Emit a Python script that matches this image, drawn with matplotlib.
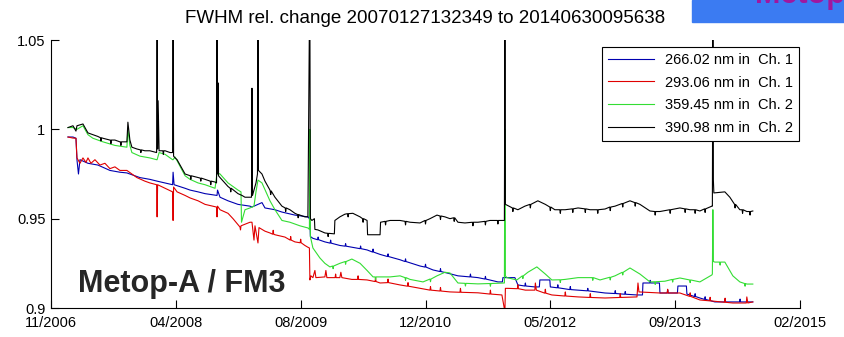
import numpy as np
import matplotlib
matplotlib.use("Agg")
from matplotlib import pyplot as plt
from matplotlib.patches import Rectangle

plt.rcParams['font.family'] = ['Liberation Sans', 'DejaVu Sans']

# x = days after 19.11.2006 (first tick), y = relative FWHM
tick_days = [0, 500, 1000, 1500, 2000, 2500, 3000]
tick_labels = ['11/2006', '04/2008', '08/2009', '12/2010', '05/2012', '09/2013', '02/2015']
ytick_vals = [0.9, 0.95, 1.0, 1.05]
ytick_labels = ['0.9', '0.95', '1', '1.05']

names = ['266.02 nm in  Ch. 1', '293.06 nm in  Ch. 1', '359.45 nm in  Ch. 2', '390.98 nm in  Ch. 2']

ch1_266 = [(68, 0.9957), (88, 0.9957), (100, 0.995), (104, 0.983), (110, 0.975), (116, 0.983),
           (148, 0.981), (188, 0.980), (236, 0.977), (276, 0.976), (304, 0.9756), (356, 0.973),
           (396, 0.972), (425, 0.971), (457, 0.970), (487, 0.969), (489, 0.976), (493, 0.969),
           (537, 0.967), (557, 0.966), (589, 0.965), (617, 0.964), (665, 0.963), (667, 0.966),
           (677, 0.962), (709, 0.960), (749, 0.958), (797, 0.957), (805, 0.9565), (829, 0.958),
           (845, 0.959), (857, 0.956), (897, 0.955), (925, 0.9537), (977, 0.952), (1029, 0.951),
           (1035, 0.950), (1037, 0.948), (1039, 0.940), (1049, 0.939), (1097, 0.937), (1157, 0.935),
           (1205, 0.934), (1266, 0.9325), (1318, 0.930), (1398, 0.927), (1478, 0.9235), (1530, 0.9213),
           (1586, 0.9196), (1630, 0.918), (1710, 0.917), (1790, 0.9146), (1808, 0.9146), (1810, 0.917),
           (1858, 0.917), (1870, 0.9129), (1938, 0.9118), (1956, 0.9118), (1958, 0.9157), (1998, 0.9157),
           (2000, 0.9118), (2059, 0.9107), (2111, 0.910), (2219, 0.9084), (2347, 0.9073), (2369, 0.9073),
           (2371, 0.914), (2437, 0.914), (2439, 0.9084), (2509, 0.9084), (2511, 0.9123), (2545, 0.9123),
           (2547, 0.9078), (2599, 0.9056), (2659, 0.9034), (2731, 0.9034), (2811, 0.9034)]
# short spikes on the curves: (day, level, tip)
ch1_266_ticks = [(1070, 0.9382, 0.9397), (1120, 0.9363, 0.938), (1180, 0.9346, 0.936),
                 (1240, 0.9332, 0.9347), (1290, 0.9313, 0.933), (1350, 0.9288, 0.9303),
                 (1420, 0.926, 0.9275), (1500, 0.9229, 0.9245), (1560, 0.9204, 0.922),
                 (1680, 0.9174, 0.919), (1740, 0.9162, 0.9177), (1900, 0.9123, 0.914),
                 (2030, 0.9113, 0.913), (2080, 0.9103, 0.912), (2150, 0.9096, 0.911),
                 (2260, 0.9081, 0.9097), (2300, 0.9077, 0.9092), (2400, 0.914, 0.9155),
                 (2470, 0.9084, 0.910), (2580, 0.9064, 0.908), (2620, 0.9048, 0.9063),
                 (2700, 0.9034, 0.905), (2760, 0.9034, 0.905)]

ch1_293 = [(68, 0.9957), (88, 0.9951), (100, 0.995), (104, 0.984), (116, 0.981), (128, 0.984),
           (140, 0.9815), (148, 0.984), (160, 0.981), (176, 0.983), (196, 0.980), (216, 0.981),
           (236, 0.978), (256, 0.979), (276, 0.977), (304, 0.977), (324, 0.975), (344, 0.973),
           (376, 0.971), (396, 0.970), (423, 0.969), (425, 0.951), (427, 0.969), (457, 0.967),
           (487, 0.965), (489, 0.949), (491, 0.9677), (505, 0.965), (537, 0.963), (557, 0.9616),
           (589, 0.960), (617, 0.958), (663, 0.9565), (665, 0.951), (667, 0.957), (677, 0.955),
           (709, 0.953), (729, 0.950), (757, 0.9453), (759, 0.9437), (761, 0.946), (797, 0.948),
           (805, 0.948), (813, 0.938), (817, 0.946), (829, 0.9364), (833, 0.945), (857, 0.943),
           (877, 0.942), (897, 0.941), (937, 0.9397), (977, 0.937), (1017, 0.935), (1029, 0.934),
           (1035, 0.9336), (1037, 0.9157), (1041, 0.918), (1049, 0.917), (1057, 0.921), (1061, 0.917),
           (1097, 0.9174), (1101, 0.921), (1105, 0.917), (1157, 0.917), (1161, 0.920), (1165, 0.917),
           (1205, 0.916), (1266, 0.9157), (1318, 0.914), (1398, 0.9129), (1478, 0.911), (1598, 0.909),
           (1710, 0.9085), (1806, 0.9073), (1818, 0.898), (1820, 0.911), (1830, 0.911), (1900, 0.910),
           (1938, 0.910), (1940, 0.914), (1944, 0.910), (2006, 0.9073), (2111, 0.9062), (2219, 0.9056),
           (2347, 0.9062), (2351, 0.914), (2355, 0.909), (2439, 0.9084), (2519, 0.9084), (2599, 0.9045),
           (2731, 0.9028), (2785, 0.9028), (2787, 0.9062), (2791, 0.9028), (2811, 0.9034)]
ch1_293_ticks = [(890, 0.9413, 0.9435), (960, 0.938, 0.940), (1000, 0.9365, 0.9385),
                 (1140, 0.917, 0.919), (1230, 0.916, 0.918), (1300, 0.9148, 0.917),
                 (1350, 0.9142, 0.9162), (1430, 0.9122, 0.9142), (1520, 0.910, 0.912),
                 (1560, 0.9095, 0.9115), (1640, 0.9088, 0.911), (1760, 0.9078, 0.910),
                 (1870, 0.9108, 0.913), (1980, 0.9083, 0.9105), (2060, 0.9067, 0.909),
                 (2160, 0.9059, 0.908), (2280, 0.9059, 0.908), (2470, 0.9084, 0.9105),
                 (2560, 0.9065, 0.9085), (2640, 0.904, 0.906), (2700, 0.9032, 0.9055)]

ch2_359 = [(68, 1.001), (88, 1.001), (104, 1.000), (128, 1.002), (148, 0.997), (168, 0.995),
           (208, 0.993), (256, 0.991), (304, 0.990), (308, 1.000), (316, 0.991), (324, 0.987),
           (356, 0.985), (396, 0.984), (423, 0.983), (425, 0.983), (433, 0.987), (457, 0.986),
           (487, 0.983), (489, 0.983), (497, 0.9845), (537, 0.974), (557, 0.972), (589, 0.970),
           (617, 0.969), (657, 0.967), (665, 0.9756), (677, 0.975), (709, 0.970), (749, 0.966),
           (761, 0.965), (763, 0.948), (777, 0.955), (797, 0.956), (813, 0.957), (821, 0.965),
           (829, 0.9716), (845, 0.970), (877, 0.960), (897, 0.955), (925, 0.949), (957, 0.948),
           (997, 0.946), (1029, 0.9448), (1035, 0.944), (1037, 1.000), (1039, 0.940), (1049, 0.9336),
           (1077, 0.928), (1097, 0.925), (1117, 0.923), (1157, 0.925), (1205, 0.9274), (1238, 0.925),
           (1266, 0.921), (1290, 0.9174), (1358, 0.9174), (1398, 0.918), (1438, 0.916), (1490, 0.9146),
           (1546, 0.918), (1578, 0.920), (1598, 0.9196), (1630, 0.914), (1710, 0.9135), (1810, 0.914),
           (1816, 0.914), (1818, 1.000), (1820, 0.918), (1826, 0.917), (1866, 0.9157), (1910, 0.920),
           (1946, 0.923), (1980, 0.919), (2006, 0.9157), (2059, 0.916), (2111, 0.917), (2139, 0.917),
           (2199, 0.9157), (2259, 0.918), (2319, 0.9224), (2359, 0.919), (2399, 0.9146), (2459, 0.915),
           (2519, 0.9168), (2599, 0.9146), (2647, 0.9185), (2649, 0.919), (2651, 0.955), (2653, 0.926),
           (2659, 0.9257), (2699, 0.9257), (2731, 0.918), (2759, 0.9146), (2787, 0.9134), (2811, 0.9134)]
ch2_359_ticks = [(1130, 0.9235, 0.922), (1180, 0.926, 0.9245), (1300, 0.9174, 0.916),
                 (1420, 0.917, 0.9155), (1520, 0.9162, 0.9147), (1660, 0.9138, 0.9123),
                 (1760, 0.9137, 0.9122), (1890, 0.918, 0.9165), (2040, 0.9158, 0.9143),
                 (2170, 0.917, 0.9155), (2240, 0.9172, 0.9157), (2290, 0.920, 0.9185),
                 (2420, 0.9147, 0.9132), (2490, 0.916, 0.9145), (2560, 0.9157, 0.9142),
                 (2680, 0.9257, 0.924), (2780, 0.9137, 0.9122)]

ch2_391 = [(68, 1.001), (88, 1.002), (100, 0.999), (104, 1.002), (128, 1.003), (148, 0.998),
           (168, 0.997), (188, 0.996), (208, 0.995), (236, 0.994), (256, 0.994), (276, 0.993),
           (304, 0.993), (308, 1.004), (316, 0.994), (324, 0.990), (344, 0.989), (376, 0.988),
           (396, 0.988), (423, 0.987), (425, 1.06), (427, 0.989), (429, 1.016), (433, 0.988),
           (457, 0.988), (477, 0.987), (487, 0.987), (489, 1.06), (491, 0.985), (497, 0.984),
           (505, 0.983), (537, 0.975), (557, 0.974), (589, 0.973), (617, 0.972), (657, 0.9705),
           (663, 0.970), (665, 1.06), (667, 0.975), (669, 1.026), (671, 0.974), (677, 0.973),
           (709, 0.968), (749, 0.964), (765, 0.963), (777, 0.962), (797, 0.962), (803, 0.962),
           (805, 1.023), (807, 0.963), (821, 0.970), (827, 0.975), (829, 1.06), (831, 0.977),
           (845, 0.975), (857, 0.971), (877, 0.966), (897, 0.962), (925, 0.957), (957, 0.955),
           (977, 0.953), (997, 0.952), (1017, 0.951), (1029, 0.951), (1035, 1.06), (1037, 1.06),
           (1039, 0.950), (1045, 0.949), (1055, 0.950), (1057, 0.944), (1069, 0.9437), (1097, 0.942),
           (1135, 0.9415), (1137, 0.949), (1157, 0.951), (1177, 0.9525), (1209, 0.953), (1238, 0.951),
           (1266, 0.949), (1268, 0.941), (1318, 0.941), (1320, 0.948), (1358, 0.949), (1398, 0.949),
           (1438, 0.948), (1478, 0.9476), (1518, 0.950), (1546, 0.952), (1578, 0.951), (1598, 0.950),
           (1630, 0.948), (1658, 0.9476), (1710, 0.948), (1758, 0.949), (1810, 0.949), (1816, 0.949),
           (1818, 1.06), (1820, 0.958), (1826, 0.9576), (1870, 0.955), (1898, 0.957), (1950, 0.960),
           (1980, 0.958), (2018, 0.955), (2059, 0.955), (2111, 0.956), (2159, 0.955), (2219, 0.9554),
           (2259, 0.957), (2319, 0.960), (2359, 0.958), (2399, 0.9543), (2439, 0.954), (2519, 0.956),
           (2559, 0.955), (2599, 0.9543), (2647, 0.957), (2649, 0.957), (2651, 1.06), (2653, 0.9716),
           (2655, 0.9644), (2699, 0.965), (2719, 0.962), (2759, 0.955), (2787, 0.954), (2811, 0.9543)]
ch2_391_ticks = [(200, 0.9953, 0.9935), (240, 0.994, 0.992), (280, 0.993, 0.991),
                 (360, 0.9885, 0.987), (450, 0.988, 0.986), (560, 0.974, 0.972),
                 (600, 0.9727, 0.971), (640, 0.971, 0.969), (720, 0.967, 0.965),
                 (880, 0.9655, 0.9635), (940, 0.956, 0.954), (990, 0.9523, 0.9505),
                 (1110, 0.9418, 0.940), (1190, 0.9528, 0.951), (1250, 0.950, 0.948),
                 (1340, 0.9485, 0.9465), (1420, 0.9485, 0.9465), (1500, 0.949, 0.947),
                 (1560, 0.9515, 0.9495), (1615, 0.9505, 0.9485), (1690, 0.948, 0.946),
                 (1740, 0.9485, 0.9465), (1790, 0.949, 0.947), (1850, 0.956, 0.954),
                 (1920, 0.958, 0.956), (2000, 0.9565, 0.9545), (2040, 0.955, 0.953),
                 (2090, 0.9555, 0.9535), (2140, 0.9555, 0.9535), (2190, 0.955, 0.953),
                 (2240, 0.9565, 0.9545), (2290, 0.9585, 0.9565), (2340, 0.959, 0.957),
                 (2420, 0.954, 0.952), (2480, 0.955, 0.953), (2540, 0.9555, 0.9535),
                 (2580, 0.955, 0.953), (2620, 0.9555, 0.9535), (2740, 0.958, 0.956),
                 (2770, 0.955, 0.953), (2800, 0.954, 0.952)]


def with_ticks(curve, ticks):
    pts = list(curve)
    for d, level, tip in ticks:
        pts += [(d - 2, level), (d, tip), (d + 2, level)]
    return np.array(sorted(pts))


series = [with_ticks(ch1_266, ch1_266_ticks), with_ticks(ch1_293, ch1_293_ticks),
          with_ticks(ch2_359, ch2_359_ticks), with_ticks(ch2_391, ch2_391_ticks)]
colors = ['#0000b0', '#e00000', '#33dd33', '#000000']

fig = plt.figure(figsize=(8.45, 3.37), dpi=100)
ax = fig.add_axes([51 / 845, 1 - 308 / 337, 749 / 845, 268 / 337])

for arr, c, name in zip(series, colors, names):
    ax.plot(arr[:, 0], arr[:, 1], color=c, linewidth=0.8, label=name)

ax.set_xlim(tick_days[0], tick_days[-1])
ax.set_ylim(ytick_vals[0], ytick_vals[-1])
ax.set_xticks(tick_days)
ax.set_xticklabels(tick_labels)
ax.set_yticks(ytick_vals)
ax.set_yticklabels(ytick_labels)
ax.tick_params(direction='in', length=6, width=0.8, labelsize=10.5)
ax.tick_params(axis='x', pad=6)
ax.tick_params(axis='y', pad=4)
ax.spines['top'].set_visible(False)
ax.spines['right'].set_visible(False)
for s in ['left', 'bottom']:
    ax.spines[s].set_linewidth(0.8)

ax.set_title('FWHM rel. change 20070127132349 to 20140630095638', fontsize=13.5, pad=12)

leg = ax.legend(loc='upper right', bbox_to_anchor=(0.9987, 0.974), borderaxespad=0,
                fontsize=10.5, handlelength=3.1, labelspacing=0.6, fancybox=False,
                edgecolor='black', framealpha=1)
leg.get_frame().set_linewidth(0.8)

ax.text(0.036, 0.06, 'Metop-A / FM3', transform=ax.transAxes, fontsize=22,
        fontweight='bold', color='#262626', va='baseline')

# blue banner in the top right corner
fig.patches.append(Rectangle((692 / 845, 1 - 22 / 337), 153 / 845, 22 / 337,
                             transform=fig.transFigure, color='#3b7bf2', zorder=0))
fig.text(755 / 845, 1 - 3 / 337, 'Metop', fontsize=22, fontweight='bold',
         color='#a0179f', va='baseline')

fig.savefig('out.png', dpi=100)
